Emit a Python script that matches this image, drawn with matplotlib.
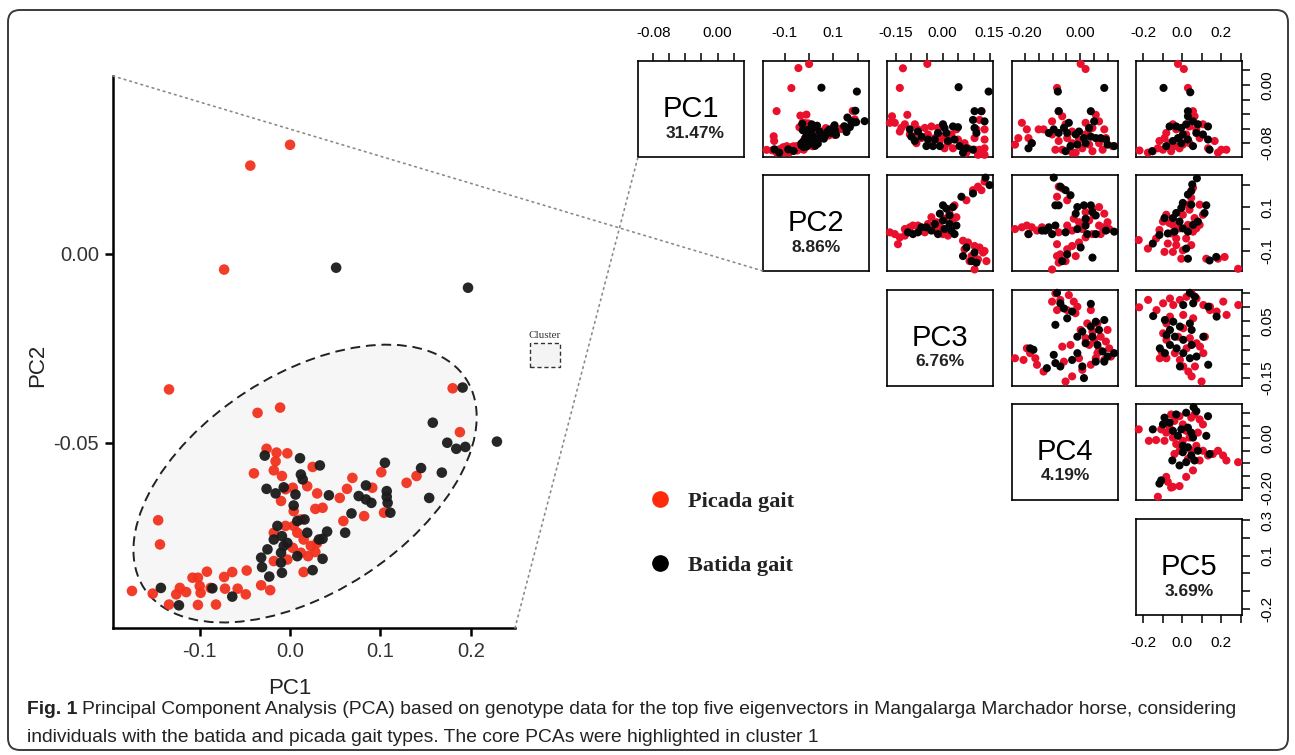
import matplotlib
matplotlib.use("Agg")
import matplotlib.pyplot as plt
from matplotlib.patches import Ellipse, Rectangle, FancyBboxPatch, ConnectionPatch
from matplotlib.lines import Line2D
from matplotlib.transforms import ScaledTranslation

plt.rcParams['font.family'] = ['Liberation Sans', 'DejaVu Sans']

W, H = 1295, 755

# ---- main panel: PC1 vs PC2 ----
picada_pc1 = [0.000, -0.044, -0.073, -0.134, -0.011, -0.036, 0.180, 0.188, -0.026, -0.015,
              -0.003, -0.016, -0.040, -0.018, -0.009, 0.025, 0.019, 0.003, 0.030, -0.010,
              0.004, 0.012, 0.028, 0.069, 0.063, 0.055, 0.091, 0.101, 0.129, 0.140,
              0.104, 0.082, 0.059, 0.008, 0.015, 0.023, 0.028, 0.012, -0.003, -0.018,
              -0.018, 0.003, 0.020, 0.015, -0.146, -0.144, -0.175, -0.152, -0.134, -0.126,
              -0.122, -0.115, -0.108, -0.102, -0.100, -0.099, -0.102, -0.092, -0.088, -0.082,
              -0.073, -0.064, -0.072, -0.058, -0.049, -0.048, -0.032, -0.022, -0.005, 0.030,
              0.004, 0.036, -0.005]
picada_pc2 = [0.0288, 0.0233, -0.0042, -0.0359, -0.0407, -0.0421, -0.0356, -0.0472, -0.0516, -0.0526,
              -0.0528, -0.0549, -0.0581, -0.0573, -0.0588, -0.0564, -0.0615, -0.0619, -0.0634, -0.0654,
              -0.0681, -0.0703, -0.0675, -0.0593, -0.0622, -0.0646, -0.0619, -0.0578, -0.0606, -0.0588,
              -0.0685, -0.0694, -0.0707, -0.0738, -0.0756, -0.0773, -0.0789, -0.0791, -0.0809, -0.0738,
              -0.0813, -0.0778, -0.0800, -0.0842, -0.0705, -0.0769, -0.0892, -0.0899, -0.0928, -0.0901,
              -0.0884, -0.0895, -0.0857, -0.0857, -0.0879, -0.0897, -0.0929, -0.0841, -0.0884, -0.0928,
              -0.0855, -0.0842, -0.0886, -0.0886, -0.0901, -0.0838, -0.0877, -0.0890, -0.0720, -0.0765,
              -0.0720, -0.0672, -0.0623]
batida_pc1 = [0.051, 0.197, 0.191, 0.229, 0.158, 0.174, 0.184, 0.194, 0.145, 0.168,
              0.154, 0.105, 0.107, 0.107, 0.108, 0.111, 0.084, 0.076, 0.084, 0.090,
              0.068, 0.061, 0.043, 0.041, 0.036, 0.036, 0.025, 0.011, 0.033, 0.012,
              0.014, -0.026, -0.016, -0.007, 0.006, 0.004, 0.008, 0.016, 0.019, -0.014,
              -0.018, -0.009, -0.007, -0.025, -0.010, -0.003, 0.008, -0.032, -0.031, -0.010,
              -0.009, -0.023, -0.143, -0.086, -0.064, -0.123, -0.028, 0.032]
batida_pc2 = [-0.0037, -0.0090, -0.0354, -0.0497, -0.0447, -0.0500, -0.0516, -0.0511, -0.0567, -0.0579,
              -0.0646, -0.0553, -0.0628, -0.0643, -0.0659, -0.0685, -0.0613, -0.0641, -0.0650, -0.0659,
              -0.0687, -0.0738, -0.0639, -0.0735, -0.0754, -0.0807, -0.0837, -0.0541, -0.0560, -0.0584,
              -0.0597, -0.0622, -0.0634, -0.0618, -0.0637, -0.0666, -0.0707, -0.0703, -0.0738, -0.0720,
              -0.0756, -0.0747, -0.0773, -0.0782, -0.0791, -0.0765, -0.0800, -0.0804, -0.0829, -0.0817,
              -0.0844, -0.0854, -0.0884, -0.0885, -0.0907, -0.0930, -0.0534, -0.0756]

# ---- pair panels (row, col): points as (x, y) ----
p13_picada = [(-0.127, 0.023), (-0.049, 0.029), (-0.137, -0.004), (-0.162, -0.043), (-0.113, -0.041),
              (-0.153, -0.052), (-0.169, -0.052), (-0.132, -0.059), (-0.121, -0.054), (-0.089, -0.054),
              (-0.079, -0.061), (-0.057, -0.059), (-0.036, -0.057), (-0.015, -0.059), (-0.095, -0.071),
              (-0.068, -0.073), (-0.047, -0.068), (-0.025, -0.073), (0.001, -0.071), (0.028, -0.068),
              (0.044, -0.061), (-0.084, -0.080), (-0.047, -0.082), (-0.009, -0.077), (0.017, -0.080),
              (0.049, -0.075), (0.033, -0.087), (0.060, -0.084), (0.081, -0.087), (0.102, -0.089),
              (0.118, -0.089), (0.134, -0.087), (0.076, -0.093), (0.113, -0.096), (0.134, -0.096),
              (0.124, -0.036), (0.118, -0.048), (0.108, -0.061), (0.134, -0.061), (0.102, -0.073),
              (0.134, -0.075), (-0.137, -0.064), (-0.105, -0.068), (0.006, -0.087), (0.070, -0.080)]
p13_batida = [(0.051, -0.003), (0.147, -0.009), (0.102, -0.036), (0.124, -0.036), (0.134, -0.050),
              (0.097, -0.048), (0.102, -0.059), (0.108, -0.066), (0.049, -0.058), (0.033, -0.057),
              (0.006, -0.059), (0.001, -0.054), (0.012, -0.066), (-0.015, -0.066), (-0.025, -0.075),
              (-0.047, -0.075), (-0.068, -0.071), (-0.079, -0.064), (-0.100, -0.071), (-0.089, -0.077),
              (-0.105, -0.061), (-0.052, -0.084), (-0.031, -0.084), (-0.009, -0.084), (0.017, -0.077),
              (0.038, -0.075), (0.054, -0.084), (0.097, -0.089), (0.065, -0.093), (0.076, -0.087)]

p14_picada = [(0.002, 0.029), (0.020, 0.022), (-0.084, -0.004), (-0.212, -0.052), (-0.194, -0.061),
              (-0.225, -0.073), (-0.237, -0.082), (-0.188, -0.073), (-0.176, -0.080), (-0.151, -0.061),
              (-0.133, -0.061), (-0.102, -0.050), (-0.078, -0.036), (-0.065, -0.043), (-0.053, -0.054),
              (-0.029, -0.064), (-0.047, -0.073), (-0.078, -0.077), (-0.090, -0.089), (-0.065, -0.089),
              (-0.029, -0.080), (-0.004, -0.075), (0.020, -0.068), (0.045, -0.059), (0.069, -0.050),
              (0.057, -0.041), (0.088, -0.061), (0.094, -0.073), (0.069, -0.080), (0.033, -0.082),
              (0.008, -0.087), (-0.016, -0.093), (0.045, -0.091), (0.082, -0.089), (0.118, -0.084),
              (0.020, -0.052), (0.033, -0.061), (-0.102, -0.068), (-0.029, -0.093)]
p14_batida = [(-0.081, -0.009), (0.088, -0.004), (-0.078, -0.036), (0.039, -0.036), (0.051, -0.050),
              (-0.114, -0.066), (-0.096, -0.061), (-0.078, -0.066), (-0.059, -0.059), (-0.041, -0.052),
              (-0.047, -0.066), (-0.016, -0.068), (-0.004, -0.064), (0.014, -0.073), (0.039, -0.071),
              (0.020, -0.080), (-0.010, -0.082), (-0.035, -0.084), (0.057, -0.073), (0.075, -0.073),
              (0.094, -0.075), (0.100, -0.082), (0.124, -0.084), (-0.188, -0.087), (-0.176, -0.080),
              (0.033, -0.059), (-0.053, -0.091)]

p15_picada = [(-0.021, 0.029), (0.009, 0.022), (0.030, -0.004), (-0.218, -0.090), (-0.175, -0.093),
              (-0.124, -0.087), (-0.116, -0.077), (-0.090, -0.073), (-0.081, -0.066), (-0.064, -0.080),
              (-0.056, -0.091), (-0.047, -0.054), (-0.030, -0.061), (-0.013, -0.073), (0.004, -0.082),
              (0.021, -0.068), (0.038, -0.057), (0.056, -0.036), (0.047, -0.048), (0.073, -0.061),
              (0.090, -0.073), (0.107, -0.054), (0.038, -0.080), (0.167, -0.077), (0.201, -0.089),
              (0.227, -0.089), (0.184, -0.093), (0.133, -0.087), (-0.039, -0.084), (-0.098, -0.089),
              (-0.150, -0.091), (0.064, -0.043), (-0.013, -0.087)]
p15_batida = [(-0.095, -0.004), (0.042, -0.010), (0.030, -0.036), (0.030, -0.043), (-0.064, -0.057),
              (-0.030, -0.057), (-0.004, -0.059), (0.021, -0.054), (0.056, -0.050), (0.081, -0.054),
              (0.133, -0.057), (0.004, -0.068), (-0.021, -0.073), (-0.047, -0.077), (0.030, -0.075),
              (0.056, -0.084), (0.107, -0.068), (0.133, -0.075), (0.141, -0.089), (-0.153, -0.091),
              (-0.081, -0.084), (0.073, -0.066), (-0.004, -0.080)]

p23_picada = [(-0.169, -0.014), (-0.153, -0.022), (-0.137, -0.037), (-0.143, -0.068), (-0.121, 0.001),
              (-0.105, 0.009), (-0.095, 0.017), (-0.079, 0.017), (-0.068, -0.006), (-0.047, 0.024),
              (-0.036, 0.055), (-0.020, 0.032), (-0.009, 0.009), (0.006, 0.048), (0.022, 0.071),
              (0.038, 0.109), (0.033, 0.048), (0.044, 0.055), (0.017, -0.029), (0.001, -0.022),
              (-0.057, -0.014), (-0.121, -0.029), (0.076, 0.132), (0.097, 0.178), (0.113, 0.194),
              (0.124, 0.178), (0.134, 0.217), (0.065, -0.052), (0.081, -0.060), (0.102, -0.076),
              (0.118, -0.083), (0.134, -0.099), (0.070, -0.091), (0.092, -0.122), (0.113, -0.137),
              (0.129, -0.106), (0.140, -0.145), (0.102, -0.183), (0.086, -0.145), (-0.025, -0.006)]
p23_batida = [(0.137, 0.235), (0.150, 0.201), (0.097, 0.163), (0.060, 0.148), (0.001, 0.109),
              (0.012, 0.094), (0.033, 0.101), (0.022, 0.063), (-0.009, 0.071), (0.001, 0.040),
              (-0.025, 0.024), (-0.036, -0.006), (-0.052, 0.009), (-0.079, -0.014), (-0.095, -0.022),
              (-0.111, -0.014), (-0.068, 0.009), (-0.015, -0.022), (0.006, 0.001), (0.028, -0.006),
              (0.038, -0.022), (0.044, 0.017), (0.065, -0.122), (0.092, -0.145), (0.108, -0.152),
              (0.076, -0.083), (0.102, -0.106), (0.022, 0.024)]

p24_picada = [(-0.078, 0.194), (-0.065, 0.186), (-0.084, 0.148), (-0.047, 0.132), (-0.237, 0.001),
              (-0.212, 0.009), (-0.194, 0.017), (-0.176, 0.009), (-0.157, -0.006), (-0.188, -0.022),
              (-0.139, 0.009), (-0.084, -0.068), (-0.078, -0.014), (-0.047, 0.017), (-0.023, 0.048),
              (-0.004, 0.032), (0.020, 0.078), (0.045, 0.094), (0.069, 0.101), (0.088, 0.071),
              (0.100, 0.032), (0.106, 0.001), (0.069, 0.017), (0.033, 0.040), (0.008, 0.001),
              (0.020, -0.037), (0.045, -0.022), (0.075, -0.022), (-0.004, -0.060), (-0.029, -0.076),
              (-0.047, -0.091), (-0.016, -0.122), (-0.053, -0.145), (-0.078, -0.152), (-0.102, -0.183),
              (-0.072, -0.114), (-0.029, -0.006), (-0.084, -0.122), (0.051, 0.063), (0.082, 0.009)]
p24_batida = [(-0.096, 0.235), (-0.072, 0.194), (-0.053, 0.178), (-0.035, 0.155), (-0.090, 0.109),
              (-0.078, 0.109), (-0.010, 0.101), (0.014, 0.109), (0.039, 0.109), (0.045, 0.078),
              (0.057, 0.063), (-0.016, 0.071), (0.020, 0.048), (-0.090, 0.017), (-0.114, 0.009),
              (-0.127, -0.006), (-0.188, -0.022), (-0.102, -0.022), (-0.053, -0.014), (-0.010, 0.001),
              (0.020, 0.017), (0.026, -0.022), (0.057, -0.022), (0.094, -0.006), (0.124, -0.011),
              (-0.047, -0.114), (-0.065, -0.145), (0.045, -0.129), (0.002, -0.083), (-0.139, -0.006)]

p25_picada = [(-0.222, -0.049), (-0.175, -0.088), (-0.133, -0.042), (-0.116, -0.003), (-0.098, 0.035),
              (-0.081, 0.066), (-0.064, 0.028), (-0.047, 0.020), (-0.056, -0.019), (-0.030, -0.042),
              (-0.013, 0.004), (0.004, 0.066), (0.030, 0.112), (0.047, 0.143), (0.056, 0.189),
              (0.038, 0.089), (0.064, 0.051), (0.073, 0.004), (0.090, 0.020), (0.107, 0.066),
              (0.090, 0.112), (0.021, -0.042), (0.047, -0.072), (0.004, -0.096), (-0.047, -0.103),
              (-0.090, -0.103), (-0.004, -0.134), (0.056, -0.011), (0.124, -0.134), (0.184, -0.134),
              (0.218, -0.126), (0.287, -0.180), (-0.030, -0.072), (-0.073, -0.065), (0.030, 0.020)]
p25_batida = [(0.076, 0.232), (0.052, 0.204), (0.047, 0.174), (0.030, 0.158), (0.004, 0.120),
              (0.047, 0.112), (0.124, 0.109), (0.115, 0.074), (-0.030, 0.074), (-0.047, 0.051),
              (-0.090, 0.051), (-0.013, 0.035), (0.004, 0.004), (0.030, -0.011), (0.056, 0.020),
              (-0.039, -0.011), (-0.073, -0.019), (-0.116, -0.026), (-0.150, -0.065), (0.021, -0.088),
              (0.030, -0.134), (0.141, -0.142), (0.175, -0.126), (0.081, 0.035), (-0.004, 0.097)]

p34_picada = [(-0.237, -0.080), (-0.206, -0.086), (-0.194, -0.045), (-0.182, -0.062), (-0.163, -0.080),
              (-0.157, -0.103), (-0.133, -0.127), (-0.053, -0.162), (-0.029, -0.144), (0.008, -0.121),
              (0.039, -0.103), (0.057, -0.080), (0.069, -0.050), (-0.035, -0.033), (-0.065, -0.039),
              (-0.090, 0.149), (-0.102, 0.120), (-0.072, 0.126), (-0.041, 0.143), (-0.023, 0.120),
              (-0.010, 0.102), (-0.017, 0.079), (-0.047, 0.090), (-0.084, 0.090), (0.039, 0.090),
              (0.002, 0.020), (0.020, -0.009), (0.033, -0.033), (0.051, -0.015), (0.075, -0.004),
              (0.094, -0.021), (0.106, -0.045), (0.112, -0.074), (0.088, -0.086), (0.063, -0.062),
              (0.045, 0.014), (0.026, 0.043), (0.063, 0.043), (-0.004, -0.080), (-0.059, -0.092),
              (0.100, 0.020)]
p34_batida = [(-0.084, 0.151), (-0.072, 0.114), (-0.059, 0.096), (-0.029, 0.085), (0.039, 0.112),
              (-0.047, 0.061), (-0.090, 0.038), (0.088, 0.055), (0.057, 0.049), (0.039, 0.032),
              (0.008, 0.014), (-0.010, -0.004), (0.020, -0.027), (0.045, -0.004), (0.063, -0.033),
              (0.082, -0.056), (0.100, -0.074), (0.124, -0.062), (0.057, -0.092), (-0.096, -0.068),
              (-0.090, -0.097), (-0.072, -0.109), (-0.121, -0.115), (-0.029, -0.086), (-0.010, -0.062),
              (0.008, -0.109), (0.014, -0.150), (0.088, -0.092), (-0.182, -0.045), (-0.170, -0.050),
              (0.069, 0.020)]

p35_picada = [(-0.220, 0.100), (-0.174, 0.126), (-0.131, 0.090), (-0.097, 0.114), (-0.062, 0.131),
              (-0.045, 0.108), (-0.011, 0.126), (0.023, 0.137), (0.049, 0.149), (0.074, 0.131),
              (0.109, 0.108), (0.143, 0.090), (0.177, 0.085), (0.211, 0.120), (0.228, 0.073),
              (0.288, 0.108), (0.143, 0.102), (-0.080, 0.043), (-0.097, 0.008), (-0.080, -0.015),
              (-0.105, -0.056), (-0.114, -0.080), (-0.080, -0.080), (-0.037, -0.062), (-0.011, -0.086),
              (0.006, -0.109), (0.032, -0.127), (0.049, -0.144), (0.100, -0.162), (0.066, -0.109),
              (0.092, -0.039), (0.117, -0.004), (0.109, -0.062), (0.074, -0.027), (0.040, -0.009),
              (-0.020, -0.004), (-0.062, 0.067), (0.006, 0.073), (0.057, 0.061), (0.023, -0.045),
              (0.006, 0.026)]
p35_batida = [(0.040, 0.151), (0.066, 0.137), (0.057, 0.114), (0.006, 0.108), (0.134, 0.102),
              (0.177, 0.067), (-0.148, 0.069), (-0.088, 0.055), (-0.045, 0.049), (-0.011, 0.032),
              (0.040, 0.043), (0.049, 0.020), (-0.062, 0.020), (-0.037, -0.004), (0.006, -0.015),
              (0.049, -0.033), (-0.028, -0.045), (-0.062, -0.033), (0.006, -0.062), (0.040, -0.080),
              (0.074, -0.074), (-0.114, -0.045), (-0.088, -0.062), (0.134, -0.103), (0.109, -0.004),
              (-0.011, -0.109), (-0.080, 0.002)]

p45_picada = [(-0.222, 0.036), (-0.170, -0.010), (-0.133, -0.007), (-0.090, -0.010), (-0.081, 0.023),
              (-0.064, 0.043), (-0.056, 0.096), (-0.039, 0.070), (-0.013, 0.089), (0.004, 0.056),
              (0.021, 0.030), (0.047, 0.083), (0.064, 0.096), (0.090, 0.076), (0.107, 0.056),
              (0.081, 0.023), (0.038, 0.003), (0.004, -0.010), (-0.030, -0.023), (-0.047, 0.003),
              (-0.013, -0.050), (-0.039, -0.063), (0.047, -0.050), (0.073, -0.030), (0.030, -0.083),
              (0.107, -0.050), (0.133, -0.069), (0.158, -0.063), (0.184, -0.050), (0.210, -0.069),
              (0.227, -0.089), (0.287, -0.096), (0.021, -0.155), (0.056, -0.129), (-0.013, -0.192),
              (-0.047, -0.195), (-0.073, -0.175), (-0.081, -0.155), (-0.056, -0.198), (-0.124, -0.235),
              (0.090, -0.089), (-0.107, 0.036)]
p45_batida = [(0.059, 0.125), (0.073, 0.109), (0.133, 0.089), (0.021, 0.103), (-0.030, 0.096),
              (-0.090, 0.083), (-0.098, 0.056), (-0.064, 0.063), (-0.150, 0.036), (-0.047, 0.030),
              (-0.004, 0.036), (0.030, 0.043), (0.047, 0.023), (0.056, 0.003), (0.124, 0.010),
              (0.004, -0.030), (0.030, -0.036), (0.004, -0.056), (0.047, -0.069), (0.064, -0.089),
              (-0.050, -0.089), (-0.013, -0.109), (0.021, -0.096), (0.141, -0.063), (-0.107, -0.169),
              (-0.116, -0.182), (0.081, -0.050), (-0.021, 0.010)]

pc_names = ['PC1', 'PC2', 'PC3', 'PC4', 'PC5']
pc_variance = ['31.47%', '8.86%', '6.76%', '4.19%', '3.69%']

# axis scales of the five pair-plot variables
var_lims = [(-0.099, 0.033), (-0.19, 0.247), (-0.178, 0.161), (-0.248, 0.138), (-0.236, 0.307)]
var_ticks = [[-0.08, -0.06, -0.04, -0.02, 0.0, 0.02],
             [-0.1, 0.0, 0.1, 0.2],
             [-0.15, -0.10, -0.05, 0.0, 0.05, 0.10, 0.15],
             [-0.20, -0.15, -0.10, -0.05, 0.0, 0.05, 0.10],
             [-0.2, -0.1, 0.0, 0.1, 0.2, 0.3]]
col_tick_labels = [['-0.08', '', '', '', '0.00', ''],
                   ['-0.1', '', '0.1', ''],
                   ['-0.15', '', '', '0.00', '', '', '0.15'],
                   ['-0.20', '', '', '', '0.00', '', ''],
                   ['-0.2', '', '0.0', '', '0.2', '']]
row_tick_labels = [['-0.08', '', '', '', '0.00', ''],
                   ['-0.1', '', '0.1', ''],
                   ['-0.15', '', '', '', '0.05', '', ''],
                   ['-0.20', '', '', '', '0.00', '', ''],
                   ['-0.2', '', '', '0.1', '', '0.3']]

panels = {
    (0, 1): (list(zip(picada_pc1, picada_pc2)), list(zip(batida_pc1, batida_pc2))),
    (0, 2): (p13_picada, p13_batida),
    (0, 3): (p14_picada, p14_batida),
    (0, 4): (p15_picada, p15_batida),
    (1, 2): (p23_picada, p23_batida),
    (1, 3): (p24_picada, p24_batida),
    (1, 4): (p25_picada, p25_batida),
    (2, 3): (p34_picada, p34_batida),
    (2, 4): (p35_picada, p35_batida),
    (3, 4): (p45_picada, p45_batida),
}

RED_MAIN = '#f2321f'
BLACK_MAIN = '#1b1b1b'
RED_PAIR = '#e8102c'
BLACK_PAIR = '#050505'


def px_rect(x0, y0, w, h):
    # pixel box (top-left origin) -> figure fraction
    return [x0 / W, 1 - (y0 + h) / H, w / W, h / H]


fig = plt.figure(figsize=(W / 100, H / 100), dpi=100)

# outer rounded frame
frame = FancyBboxPatch((0.08, 0.05), 12.80, 7.40, boxstyle="round,pad=0,rounding_size=0.12",
                       transform=fig.dpi_scale_trans, facecolor='none', edgecolor='#3a3a3a', lw=1.4)
fig.add_artist(frame)

# main scatter
ax = fig.add_axes(px_rect(113, 76, 402, 552))
ax.set_xlim(-0.196, 0.249)
ax.set_ylim(-0.099, 0.047)
ax.set_facecolor('none')

# cluster ellipse (size in inches, centre in data units)
ell = Ellipse((0, 0), 3.84, 2.18, angle=33,
              transform=fig.dpi_scale_trans + ScaledTranslation(0.0166, -0.0608, ax.transData),
              facecolor='#f7f6f7', edgecolor='#222222', linestyle=(0, (5, 3)), lw=1.4, zorder=1)
ax.add_patch(ell)

ax.scatter(picada_pc1, picada_pc2, s=58, color=RED_MAIN, edgecolors='none', alpha=0.95, zorder=3)
ax.scatter(batida_pc1, batida_pc2, s=58, color=BLACK_MAIN, edgecolors='none', alpha=0.95, zorder=3)

for side in ['top', 'right']:
    ax.spines[side].set_visible(False)
for side in ['left', 'bottom']:
    ax.spines[side].set_linewidth(1.8)
ax.set_xticks([-0.1, 0.0, 0.1, 0.2])
ax.set_xticklabels(['-0.1', '0.0', '0.1', '0.2'])
ax.set_yticks([-0.05, 0.0])
ax.set_yticklabels(['-0.05', '0.00'])
ax.tick_params(direction='out', length=6, width=1.8, labelsize=14.5, labelcolor='#333333', pad=4)
ax.set_xlabel('PC1', fontsize=16, color='#222222', va='center')
ax.set_ylabel('PC2', fontsize=16, color='#222222')
ax.xaxis.set_label_coords(0.44, -0.109)
ax.yaxis.set_label_coords(-0.162, 0.476)

# "Cluster" key box
ax.add_patch(Rectangle((1.037, 0.473), 0.075, 0.043, transform=ax.transAxes, clip_on=False,
                       facecolor='#f4f4f4', edgecolor='#333333', linestyle=(0, (3, 2)), lw=1.0))
ax.text(1.074, 0.529, 'Cluster', transform=ax.transAxes, ha='center', va='center',
        fontsize=8, family=['Liberation Serif'], color='#333333')

# pair plot panels
col_x = [638, 763, 887, 1012, 1136]
row_y = [61, 175, 290, 404, 519]
pair_axes = {}
for i in range(5):
    for j in range(i, 5):
        pa = fig.add_axes(px_rect(col_x[j], row_y[i], 106, 96))
        pair_axes[(i, j)] = pa
        pa.set_xlim(var_lims[j])
        pa.set_ylim(var_lims[i])
        for sp in pa.spines.values():
            sp.set_linewidth(1.2)
        pa.set_xticks([])
        pa.set_yticks([])
        if i == j:
            pa.text(0.5, 0.5, pc_names[i], transform=pa.transAxes, ha='center', va='center', fontsize=21)
            pa.text(0.54 if i == 0 else 0.5, 0.25, pc_variance[i], transform=pa.transAxes,
                    ha='center', va='center', fontsize=12.5, fontweight='bold', color='#222222')
        else:
            red_pts, black_pts = panels[(i, j)]
            rx, ry = zip(*red_pts)
            bx, by = zip(*black_pts)
            pa.scatter(rx, ry, s=34, color=RED_PAIR, edgecolors='none', zorder=3, clip_on=False)
            pa.scatter(bx, by, s=34, color=BLACK_PAIR, edgecolors='none', zorder=3, clip_on=False)
        if i == 0:
            pa.set_xticks(var_ticks[j])
            pa.set_xticklabels(col_tick_labels[j])
            pa.xaxis.set_ticks_position('top')
            pa.tick_params(axis='x', top=True, bottom=(i == 4 and j == 4), labeltop=True,
                           labelbottom=False, direction='out', length=6, width=1.1, labelsize=11, pad=9)
        if i == 4 and j == 4:
            pa.set_xticks(var_ticks[j])
            pa.set_xticklabels(col_tick_labels[j])
            pa.tick_params(axis='x', top=False, bottom=True, labeltop=False, labelbottom=True,
                           direction='out', length=6, width=1.1, labelsize=11, pad=9)
        if j == 4:
            pa.set_yticks(var_ticks[i])
            pa.set_yticklabels(row_tick_labels[i])
            pa.yaxis.set_ticks_position('right')
            pa.tick_params(axis='y', right=True, left=False, labelright=True, labelleft=False,
                           direction='out', length=6, width=1.1, labelsize=11, pad=7)
            for lbl in pa.get_yticklabels():
                lbl.set_rotation(90)
                lbl.set_va('center')

# zoom connector lines
for xyA, target in [((0, 1), pair_axes[(1, 1)]), ((1, 0), pair_axes[(0, 0)])]:
    con = ConnectionPatch(xyA=xyA, coordsA=ax.transAxes, xyB=(0, 0), coordsB=target.transAxes,
                          color='#8a8a8a', linestyle=(0, (1, 2.5)), lw=1.2)
    fig.add_artist(con)

# legend
handles = [Line2D([], [], marker='o', linestyle='none', markersize=11, color='#ff2a0a'),
           Line2D([], [], marker='o', linestyle='none', markersize=11, color='#000000')]
leg = fig.legend(handles, ['Picada gait', 'Batida gait'], loc='center left',
                 bbox_to_anchor=(0.4873, 0.2930), frameon=False, labelspacing=1.95,
                 handlelength=0.8, handletextpad=0.86,
                 prop={'family': 'Liberation Serif', 'weight': 'bold', 'size': 16})
for t in leg.get_texts():
    t.set_color('#222222')

# caption
renderer = fig.canvas.get_renderer()
cap_y1 = 1 - 709 / H
cap_y2 = 1 - 737 / H
t1 = fig.text(27 / W, cap_y1, 'Fig. 1', fontweight='bold', fontsize=13.85, va='center', color='#222222')
bb = t1.get_window_extent(renderer)
fig.text((bb.x1 + 5) / W, cap_y1,
         'Principal Component Analysis (PCA) based on genotype data for the top five eigenvectors '
         'in Mangalarga Marchador horse, considering',
         fontsize=13.85, va='center', color='#222222')
fig.text(27 / W, cap_y2,
         'individuals with the batida and picada gait types. The core PCAs were highlighted in cluster 1',
         fontsize=13.85, va='center', color='#222222')

fig.savefig('out.png', dpi=100)
